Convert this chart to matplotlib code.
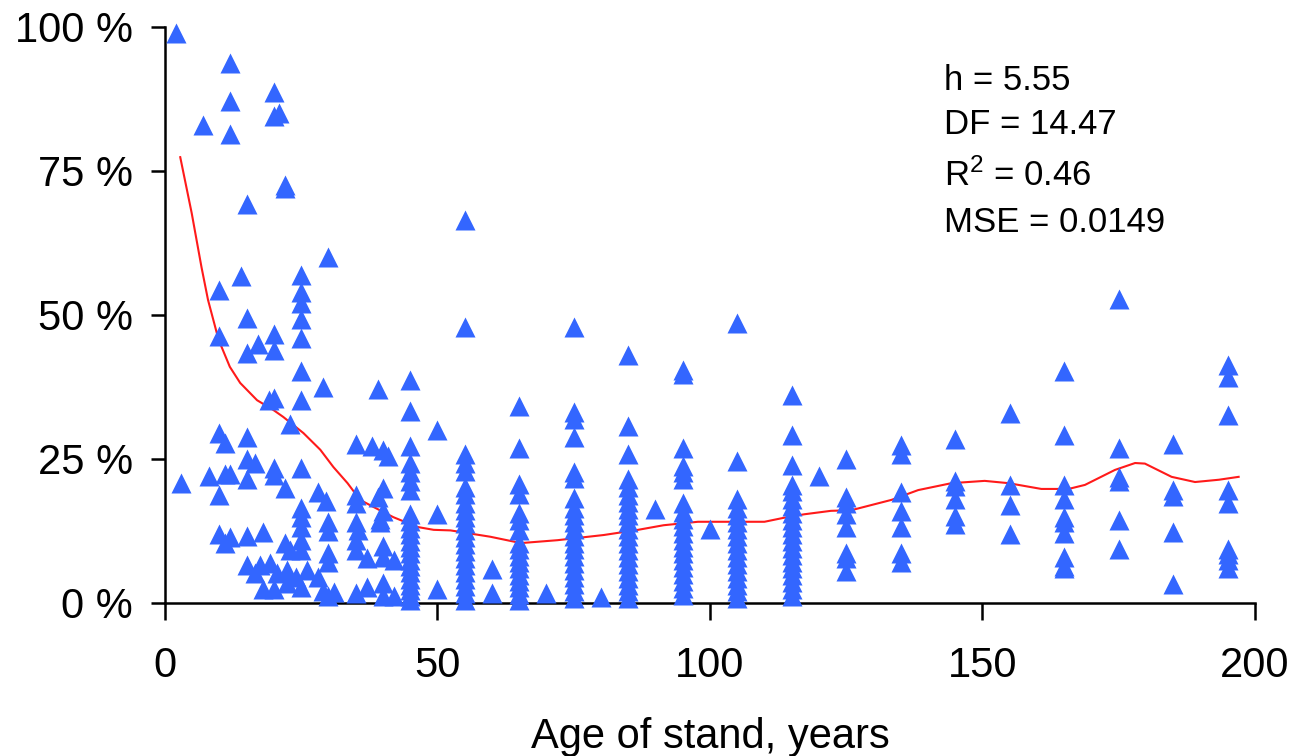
import matplotlib.pyplot as plt
import numpy as np

plt.rcParams['font.family'] = ['Liberation Sans', 'DejaVu Sans']
plt.rcParams['mathtext.fontset'] = 'custom'
plt.rcParams['mathtext.rm'] = 'Liberation Sans'
plt.rcParams['mathtext.it'] = 'Liberation Sans'

# young stands, scattered ages
young_age = [2, 12, 12, 7, 12, 20, 20, 21, 22, 22, 15, 30, 10, 14, 25, 25, 25, 25, 25,
             15, 10, 20, 17, 15, 20, 25, 29, 19, 20, 25, 39, 23, 10, 11, 15, 35, 38, 40,
             41, 15, 16.5, 3, 8, 11, 12, 15, 20, 20, 22, 25, 10, 28, 35, 39, 40, 29.5,
             35, 40, 25, 25, 25, 30, 30, 35, 35.5, 39.5, 39.5, 10, 11, 12, 15, 18, 22,
             23, 25, 25, 30, 30, 35, 35, 37, 40, 40, 42, 15, 16.5, 17.5, 19.3, 20.5,
             22.4, 24, 26, 28, 18, 20, 22.4, 25, 29, 30, 31, 35, 37, 40, 40, 42]
young_cover = [99, 93.7, 87.2, 83, 81.4, 88.7, 84.5, 85, 72.6, 72, 69.3, 60, 54.3, 56.8,
               57, 54, 52, 49.3, 46, 49.5, 46.4, 46.7, 45, 43.4, 44, 40.3, 37.5, 35.2,
               35.6, 35.2, 37.1, 31, 29.5, 27.8, 28.8, 27.6, 27.2, 26.5, 25.5, 25, 24.3,
               20.8, 22, 22.4, 22.4, 21.5, 23.4, 22.2, 20, 23.4, 18.8, 19.3, 18.8, 18.4,
               20, 17.7, 17.4, 16, 16.5, 15, 13.2, 14, 12.5, 14, 12.7, 14.6, 14, 12,
               10.4, 11.5, 11.6, 12.3, 10.4, 9.2, 11, 9.2, 8.7, 7.1, 11, 9.2, 7.8, 9.9,
               8, 7.5, 6.6, 5.2, 6.6, 7, 5.2, 5.7, 4.5, 5.7, 4.5, 2.4, 2.4, 3.5, 2.8, 2,
               1.2, 1.9, 1.7, 2.8, 3.5, 1.2, 1.2]

# older stands grouped by age class
class_age = [45, 50, 55, 60, 65, 70, 75, 80, 85, 90, 95, 100, 105, 115, 120,
             125, 135, 145, 155, 165, 175, 185, 195]
class_cover = [
    [38.7, 33.3, 27.3, 24.3, 22.7, 21.2, 19.6, 15.5, 14.3, 13.1, 12.0, 10.8, 9.7, 8.6,
     7.5, 6.4, 5.3, 4.2, 3.2, 2.2, 1.2, 0.5],
    [30.0, 15.5, 2.4],
    [66.5, 48.0, 25.9, 24.3, 23.0, 20.2, 19.0, 17.4, 16.2, 15.0, 13.8, 12.6, 11.4, 10.2,
     9.0, 7.8, 6.6, 5.4, 4.2, 3.0, 1.8, 0.6],
    [5.9, 1.7],
    [34.2, 26.9, 20.7, 19.0, 15.6, 14.4, 12.7, 10.4, 9.3, 8.2, 7.1, 6.0, 4.9, 3.8, 2.7,
     1.6, 0.6],
    [1.8],
    [48.0, 33.2, 32.0, 28.8, 22.7, 21.7, 18.2, 16.5, 15.3, 14.1, 12.9, 11.7, 10.5, 9.3,
     8.1, 6.9, 5.7, 4.5, 3.3, 2.1, 0.9],
    [1.0],
    [43.0, 30.7, 25.9, 21.5, 20.1, 18.8, 17.6, 16.4, 15.2, 14.0, 12.8, 11.6, 10.4, 9.2,
     8.0, 6.8, 5.6, 4.4, 3.2, 2.0, 0.8],
    [16.3],
    [40.5, 39.8, 26.9, 23.8, 22.7, 21.5, 17.4, 15.8, 14.6, 13.4, 12.2, 11.0, 9.8, 8.6,
     7.4, 6.2, 5.0, 3.8, 2.6, 1.4],
    [12.8],
    [48.6, 24.7, 18.0, 16.5, 15.2, 14.0, 12.8, 11.6, 10.4, 9.2, 8.0, 6.8, 5.6, 4.4, 3.2,
     2.0, 0.9],
    [36.1, 29.2, 24.0, 20.5, 19.4, 18.0, 16.8, 15.6, 14.4, 13.2, 12.0, 10.8, 9.6, 8.4,
     7.2, 6.0, 4.8, 3.6, 2.4, 1.2],
    [22.0],
    [25.0, 18.4, 17.3, 15.5, 13.2, 8.7, 7.8, 5.6],
    [27.4, 25.9, 19.3, 16.0, 13.2, 8.7, 7.1],
    [28.5, 21.2, 20.3, 18.0, 15.1, 13.7],
    [33.0, 20.5, 17.0, 12.0],
    [40.3, 29.2, 20.5, 18.0, 15.0, 14.0, 12.2, 8.0, 6.4, 6.0],
    [52.8, 26.9, 21.9, 21.2, 14.4, 9.4],
    [27.6, 19.6, 18.5, 12.3, 3.3],
    [41.3, 39.2, 32.6, 19.6, 17.4, 9.4, 8.5, 7.5, 6.0],
]

# smoothed fit
fit_age = [2.8, 4.9, 6.7, 7.9, 9.5, 10.1, 11.9, 13.8, 16.9, 19.9, 21.7, 25.4, 28.5,
           30.9, 33.5, 35.8, 38.2, 41.9, 46.3, 49.3, 52.4, 59.7, 65.3, 72, 80.5, 86.8,
           91.5, 97.8, 110, 113.6, 117.3, 122.2, 125.9, 133.3, 138.2, 144.3, 150.4,
           154.8, 160.8, 165.8, 168.8, 174.3, 178, 179.8, 184.7, 189, 193.4, 197]
fit_cover = [77.4, 67.7, 58.3, 52.6, 46.9, 45.1, 41.0, 38.2, 35.2, 33.5, 32.3, 29.5,
             26.6, 23.6, 20.8, 17.9, 16.7, 14.9, 13.2, 12.7, 12.6, 11.5, 10.4, 10.9,
             11.8, 12.7, 13.5, 14.1, 14.1, 14.8, 15.4, 16.0, 16.1, 17.9, 19.6, 20.8,
             21.2, 20.8, 19.8, 19.8, 20.5, 23.1, 24.3, 24.2, 21.9, 21.0, 21.4, 21.9]

stats = ['h = 5.55', 'DF = 14.47', 'R$^2$ = 0.46', 'MSE = 0.0149']
stats_y = [89.1, 81.4, 72.4, 64.4]

ages = list(young_age)
cover = list(young_cover)
for a, vals in zip(class_age, class_cover):
    ages += [a] * len(vals)
    cover += vals

fig = plt.figure(figsize=(12.95, 7.56), dpi=100)
ax = fig.add_axes([0.1274, 0.2024, 0.8417, 0.7619])

ax.plot(fit_age, fit_cover, color='#ff1a1a', lw=1.5, zorder=2)
ax.plot(ages, cover, ls='none', marker='^', ms=15, color='#3366ff',
        mec='none', zorder=3, clip_on=False)

ax.set_xlim(0, 200)
ax.set_ylim(0, 100)
ax.set_xticks([0, 50, 100, 150, 200])
ax.set_yticks([0, 25, 50, 75, 100])
ax.set_yticklabels([f'{v} %' for v in [0, 25, 50, 75, 100]])
ax.tick_params(axis='both', labelsize=30, width=1.8, length=10, direction='out')
ax.tick_params(axis='y', pad=13)
ax.tick_params(axis='x', pad=19, length=12)
for side in ['top', 'right']:
    ax.spines[side].set_visible(False)
for side in ['left', 'bottom']:
    ax.spines[side].set_linewidth(1.8)

ax.set_xlabel('Age of stand, years', fontsize=30, labelpad=22)

for s, y in zip(stats, stats_y):
    ax.text(142.9, y, s, fontsize=25, va='baseline', ha='left')

fig.savefig('out.png', dpi=100)
